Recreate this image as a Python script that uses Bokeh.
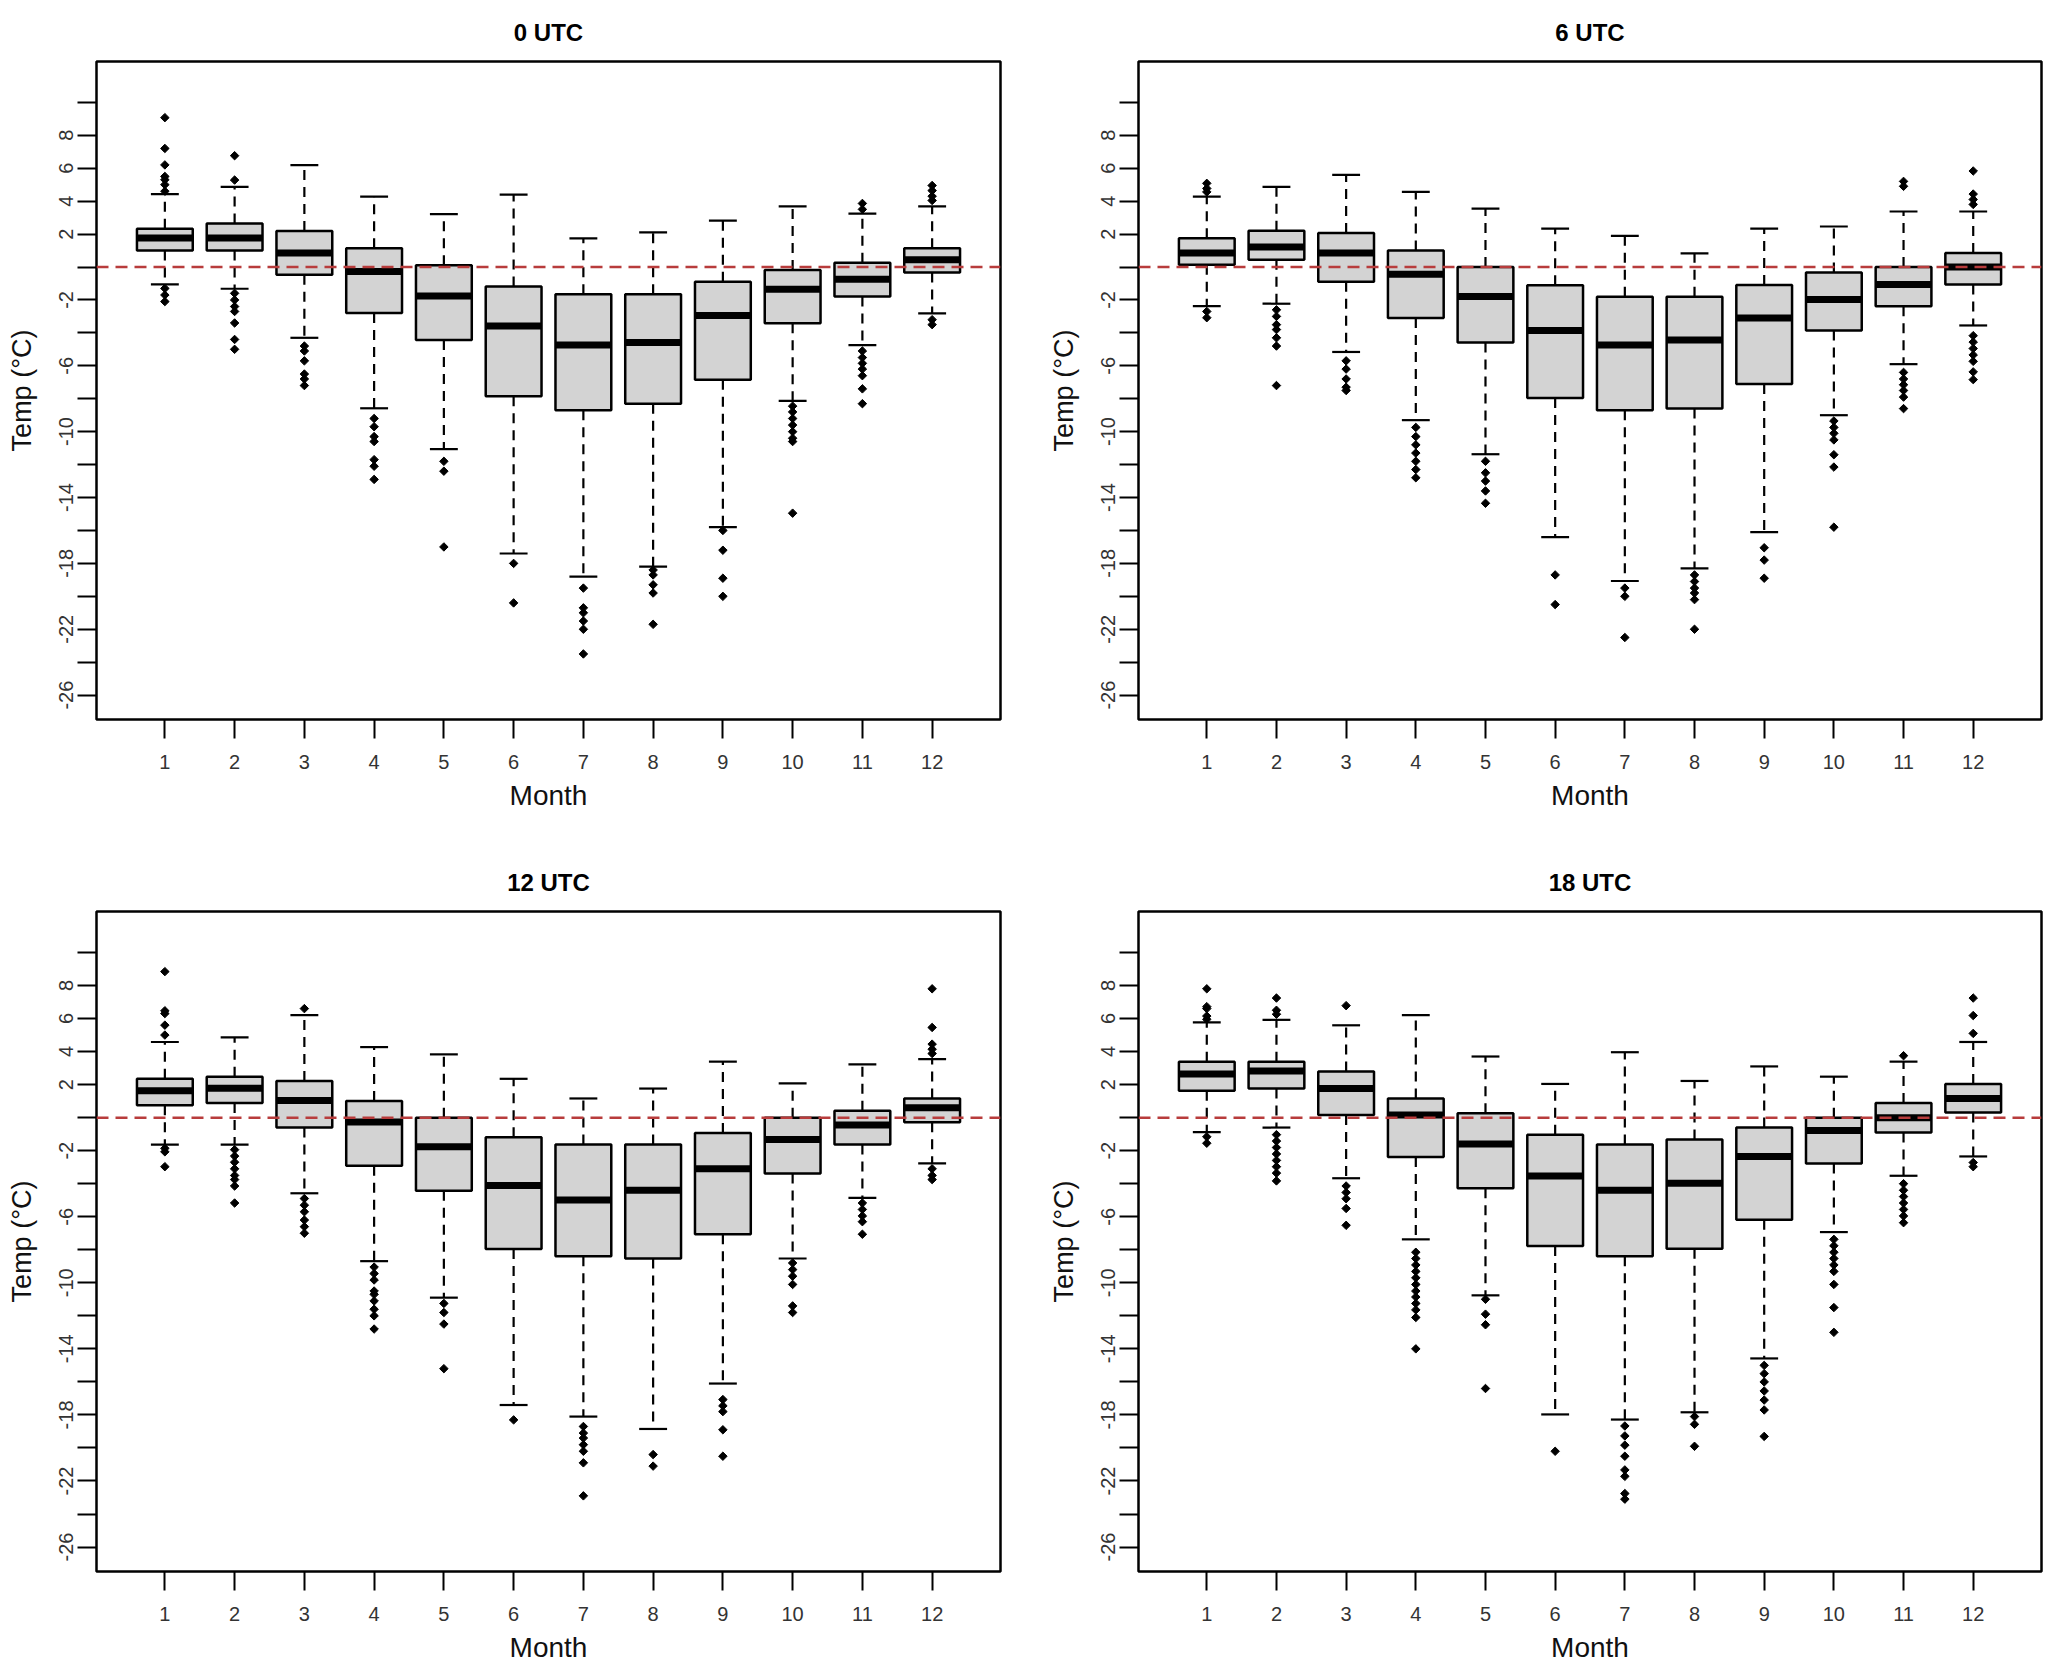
import numpy as np
from bokeh.plotting import figure
from bokeh.layouts import column, row
from bokeh.models import ColumnDataSource, FixedTicker, Span, Range1d
from bokeh.embed import file_html
from bokeh.resources import INLINE

months = list(range(1, 13))
y_ticks = list(range(-26, 11, 2))
y_labelled = [8, 6, 4, 2, -2, -6, -10, -14, -18, -22, -26]

# ---- 0 UTC ----
utc0_low = [-1.06, -1.32, -4.3, -8.58, -11.06, -17.4, -18.8, -18.2, -15.8, -8.13, -4.74, -2.82]
utc0_q1 = [1.0, 1.0, -0.47, -2.8, -4.43, -7.85, -8.7, -8.3, -6.84, -3.42, -1.79, -0.34]
utc0_med = [1.76, 1.76, 0.85, -0.28, -1.76, -3.58, -4.74, -4.59, -2.95, -1.35, -0.75, 0.44]
utc0_q3 = [2.33, 2.64, 2.18, 1.14, 0.1, -1.19, -1.66, -1.66, -0.9, -0.18, 0.26, 1.14]
utc0_high = [4.43, 4.87, 6.19, 4.27, 3.21, 4.4, 1.74, 2.1, 2.82, 3.68, 3.24, 3.68]
utc0_out = [
    [9.07, 7.2, 6.2, 5.5, 5.3, 5.0, 4.6, -1.3, -1.7, -2.1],
    [6.76, 5.28, -1.6, -2.0, -2.4, -2.7, -3.4, -4.4, -5.0],
    [-4.8, -5.1, -5.7, -6.5, -6.8, -7.2],
    [-9.2, -9.7, -10.3, -10.6, -11.7, -12.1, -12.9],
    [-11.8, -12.4, -17.0],
    [-18.0, -20.4],
    [-19.5, -20.7, -21.0, -21.5, -22.0, -23.5],
    [-18.4, -18.7, -19.3, -19.8, -21.7],
    [-16.0, -17.2, -18.9, -20.0],
    [-8.45, -8.8, -9.2, -9.6, -10.0, -10.4, -10.6, -14.95],
    [3.5, 3.86, -5.1, -5.5, -5.85, -6.2, -6.6, -7.4, -8.3],
    [4.04, 4.3, 4.64, 4.95, -3.2, -3.5],
]

# ---- 6 UTC ----
utc6_low = [-2.38, -2.23, -5.16, -9.3, -11.37, -16.4, -19.07, -18.3, -16.1, -9.0, -5.9, -3.55]
utc6_q1 = [0.13, 0.44, -0.9, -3.1, -4.59, -7.95, -8.7, -8.6, -7.1, -3.86, -2.38, -1.06]
utc6_med = [0.85, 1.22, 0.85, -0.44, -1.79, -3.86, -4.74, -4.43, -3.1, -1.97, -1.06, 0.0]
utc6_q3 = [1.74, 2.2, 2.07, 1.0, 0.0, -1.11, -1.81, -1.81, -1.09, -0.34, 0.0, 0.85]
utc6_high = [4.27, 4.87, 5.6, 4.56, 3.55, 2.33, 1.89, 0.83, 2.33, 2.46, 3.37, 3.37]
utc6_out = [
    [5.08, 4.77, 4.56, -2.7, -3.08],
    [-2.6, -3.0, -3.5, -3.8, -4.3, -4.8, -7.2],
    [-5.7, -6.2, -6.8, -7.3, -7.5],
    [-9.74, -10.3, -10.8, -11.3, -11.8, -12.3, -12.8],
    [-11.8, -12.5, -13.0, -13.6, -14.35],
    [-18.7, -20.5],
    [-19.5, -20.0, -22.5],
    [-18.7, -19.1, -19.5, -19.8, -20.2, -22.0],
    [-17.05, -17.8, -18.9],
    [-9.35, -9.74, -10.1, -10.5, -11.4, -12.15, -15.8],
    [5.2, 4.9, -6.4, -6.8, -7.15, -7.5, -7.9, -8.6],
    [5.83, 4.43, 4.1, 3.8, -4.17, -4.56, -4.95, -5.34, -5.73, -6.37, -6.84],
]

# ---- 12 UTC ----
utc12_low = [-1.63, -1.63, -4.58, -8.69, -10.9, -17.4, -18.1, -18.85, -16.1, -8.53, -4.86, -2.77]
utc12_q1 = [0.75, 0.88, -0.6, -2.92, -4.42, -7.96, -8.4, -8.53, -7.06, -3.39, -1.63, -0.28]
utc12_med = [1.63, 1.78, 1.03, -0.26, -1.76, -4.11, -4.99, -4.4, -3.1, -1.32, -0.44, 0.6]
utc12_q3 = [2.35, 2.48, 2.22, 1.0, 0.0, -1.19, -1.63, -1.63, -0.93, 0.0, 0.41, 1.16]
utc12_high = [4.58, 4.86, 6.2, 4.27, 3.83, 2.35, 1.16, 1.76, 3.39, 2.07, 3.23, 3.54]
utc12_out = [
    [8.84, 6.47, 6.3, 5.6, 5.0, -1.86, -2.07, -2.97],
    [-1.94, -2.33, -2.7, -3.1, -3.5, -3.75, -4.14, -5.17],
    [6.6, -4.9, -5.3, -5.7, -6.2, -6.6, -7.0],
    [-9.05, -9.44, -9.83, -10.5, -10.7, -11.1, -11.6, -12.0, -12.8],
    [-11.25, -11.8, -12.5, -15.2],
    [-18.3],
    [-18.7, -19.1, -19.4, -19.8, -20.2, -20.9, -22.9],
    [-20.4, -21.1],
    [-17.07, -17.45, -17.8, -18.9, -20.5],
    [-8.8, -9.2, -9.6, -10.1, -11.4, -11.8],
    [-5.17, -5.56, -5.95, -6.3, -7.06],
    [7.8, 5.46, 4.45, 4.14, 3.88, -3.1, -3.5, -3.75],
]

# ---- 18 UTC ----
utc18_low = [-0.88, -0.6, -3.67, -7.37, -10.76, -17.97, -18.28, -17.84, -14.58, -6.93, -3.52, -2.35]
utc18_q1 = [1.63, 1.76, 0.16, -2.38, -4.27, -7.78, -8.4, -7.94, -6.18, -2.77, -0.9, 0.31]
utc18_med = [2.64, 2.82, 1.76, 0.16, -1.6, -3.54, -4.4, -3.98, -2.35, -0.78, 0.0, 1.16]
utc18_q3 = [3.39, 3.39, 2.79, 1.16, 0.26, -1.03, -1.63, -1.32, -0.6, 0.0, 0.88, 2.04]
utc18_high = [5.77, 5.92, 5.59, 6.2, 3.7, 2.04, 3.96, 2.22, 3.1, 2.48, 3.39, 4.58]
utc18_out = [
    [7.8, 6.72, 6.6, 6.15, 5.95, -1.16, -1.55],
    [7.24, 6.5, 6.26, -1.03, -1.42, -1.81, -2.2, -2.59, -2.97, -3.36, -3.83],
    [6.78, -4.14, -4.53, -4.91, -5.5, -6.52],
    [-8.15, -8.53, -8.92, -9.31, -9.7, -10.1, -10.5, -10.86, -11.25, -11.64, -12.1, -14.0],
    [-11.0, -11.9, -12.54, -16.4],
    [-20.2],
    [-18.67, -19.27, -19.83, -20.5, -21.33, -21.72, -22.76, -23.1],
    [-18.1, -18.57, -19.9],
    [-15.0, -15.5, -16.0, -16.55, -17.1, -17.7, -19.3],
    [-7.37, -7.76, -8.15, -8.53, -8.92, -9.31, -10.1, -11.5, -13.0],
    [3.75, -4.0, -4.4, -4.78, -5.17, -5.56, -5.95, -6.36],
    [7.24, 6.18, 5.1, -2.72, -2.97],
]

BOX_W = 0.8
CAP_W = 0.4


def make_panel(title, low, q1, med, q3, high, outliers, top_row, left_col):
    p = figure(
        output_backend="svg", toolbar_location=None,
        frame_width=904 if left_col else 903,
        frame_height=658 if top_row else 660,
        min_border_left=96 if left_col else 113,
        min_border_right=25 if left_col else 6,
        min_border_top=61,
        min_border_bottom=131 if top_row else 93,
        x_range=Range1d(0.02, 12.98), y_range=Range1d(-27.48, 12.48),
        title=title,
    )
    p.title.align = "center"
    p.title.vertical_align = "bottom"
    p.title.text_font = "Liberation Sans"
    p.title.text_font_style = "bold"
    p.title.text_font_size = "24px"
    p.title.text_color = "black"
    p.title.standoff = 31

    m = np.array(months, dtype=float)
    src = ColumnDataSource(dict(
        x=m, low=low, q1=q1, med=med, q3=q3, high=high,
        xl=m - BOX_W / 2, xr=m + BOX_W / 2,
        cl=m - CAP_W / 2, cr=m + CAP_W / 2,
    ))

    # whiskers
    p.segment(x0="x", y0="q3", x1="x", y1="high", source=src,
              line_color="black", line_width=2.2, line_dash="10 7")
    p.segment(x0="x", y0="q1", x1="x", y1="low", source=src,
              line_color="black", line_width=2.2, line_dash="10 7")
    # staples
    p.segment(x0="cl", y0="high", x1="cr", y1="high", source=src,
              line_color="black", line_width=2.2)
    p.segment(x0="cl", y0="low", x1="cr", y1="low", source=src,
              line_color="black", line_width=2.2)
    # boxes
    p.vbar(x="x", width=BOX_W, bottom="q1", top="q3", source=src,
           fill_color="#D3D3D3", line_color="black", line_width=2.5)
    # medians
    p.segment(x0="xl", y0="med", x1="xr", y1="med", source=src,
              line_color="black", line_width=7)

    ox, oy = [], []
    for month, vals in zip(months, outliers):
        ox += [month] * len(vals)
        oy += vals
    p.scatter(ox, oy, marker="square", angle=np.pi / 4, size=6,
              fill_color="black", line_color="black")

    p.add_layout(Span(location=0, dimension="width", line_color="#B83C3C",
                      line_width=2.5, line_dash="12 7"))

    p.xgrid.visible = False
    p.ygrid.visible = False
    p.outline_line_color = "black"
    p.outline_line_width = 2.5
    p.outline_line_alpha = 1

    for ax in (p.xaxis[0], p.yaxis[0]):
        ax.axis_line_color = None
        ax.major_tick_out = 19
        ax.major_tick_in = 0
        ax.major_tick_line_width = 2
        ax.major_tick_line_color = "black"
        ax.minor_tick_line_color = None
        ax.major_label_text_font = "Liberation Sans"
        ax.major_label_text_font_size = "20px"
        ax.major_label_text_color = "#333333"
        ax.axis_label_text_font = "Liberation Sans"
        ax.axis_label_text_font_style = "normal"
        ax.axis_label_text_color = "#111111"

    xa = p.xaxis[0]
    xa.ticker = FixedTicker(ticks=months)
    xa.major_label_standoff = 16
    xa.axis_label = "Month"
    xa.axis_label_text_font_size = "28px"
    xa.axis_label_standoff = 8

    ya = p.yaxis[0]
    ya.ticker = FixedTicker(ticks=y_ticks)
    ya.major_label_overrides = {
        t: (str(t) if t in y_labelled else "") for t in y_ticks
    }
    ya.major_label_orientation = "parallel"
    ya.major_label_standoff = 4
    ya.axis_label = "Temp (°C)"
    ya.axis_label_text_font_size = "27px"
    ya.axis_label_standoff = 20
    return p


p1 = make_panel("0 UTC", utc0_low, utc0_q1, utc0_med, utc0_q3, utc0_high, utc0_out, True, True)
p2 = make_panel("6 UTC", utc6_low, utc6_q1, utc6_med, utc6_q3, utc6_high, utc6_out, True, False)
p3 = make_panel("12 UTC", utc12_low, utc12_q1, utc12_med, utc12_q3, utc12_high, utc12_out, False, True)
p4 = make_panel("18 UTC", utc18_low, utc18_q1, utc18_med, utc18_q3, utc18_high, utc18_out, False, False)

layout = column(row(p1, p2), row(p3, p4))

open("out.html", "w").write(file_html(layout, INLINE))
